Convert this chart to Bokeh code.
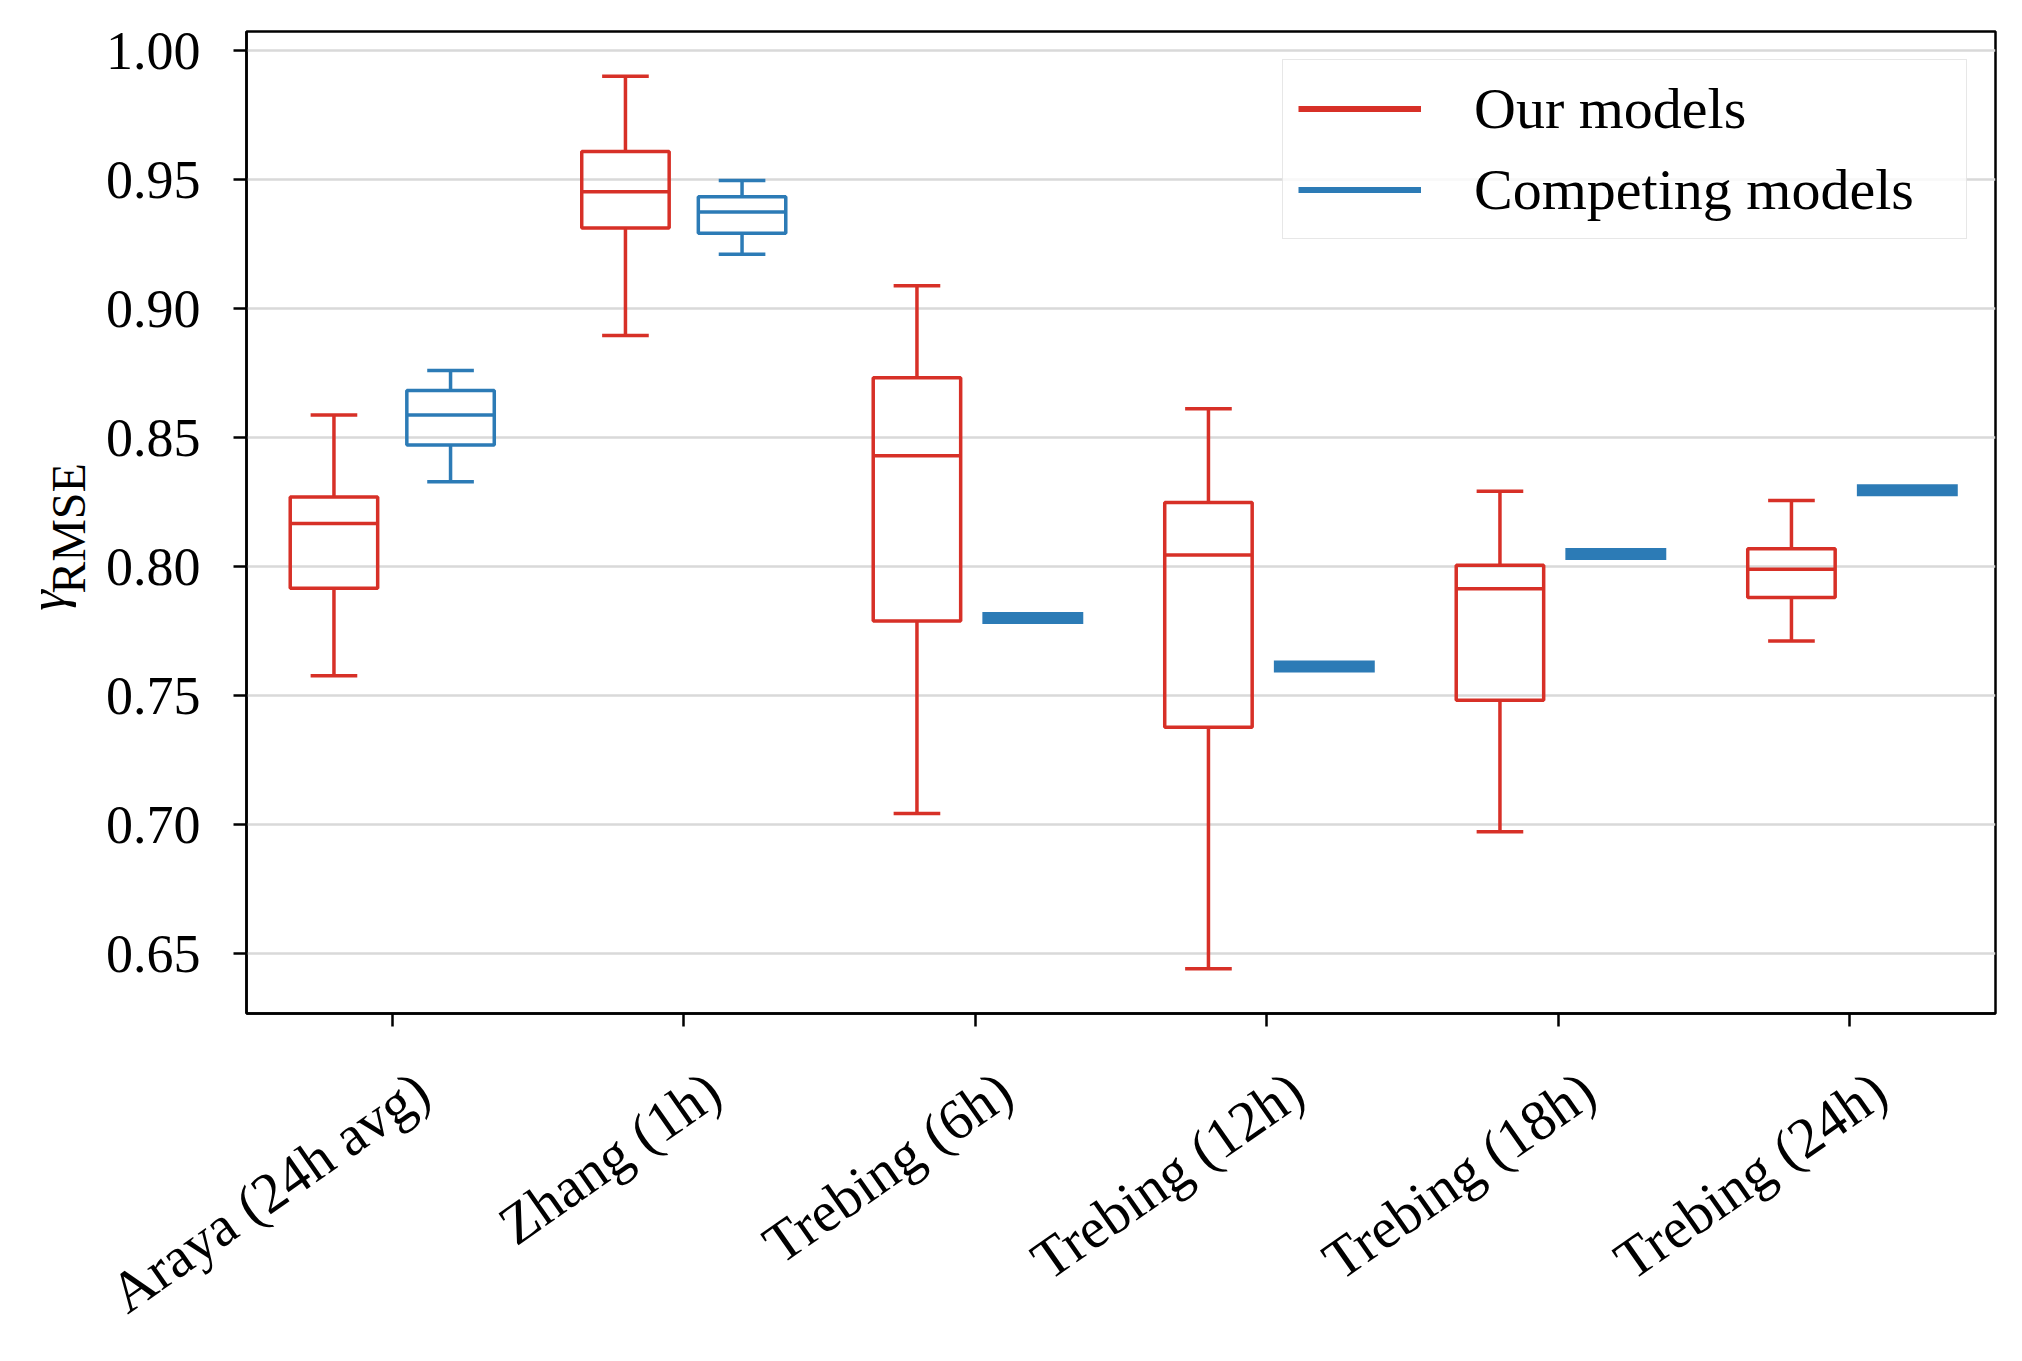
import math
from bokeh.plotting import figure
from bokeh.models import (ColumnDataSource, FixedTicker, PrintfTickFormatter,
                          Legend, LegendItem, Range1d, LinearAxis)
from bokeh.embed import file_html
from bokeh.resources import INLINE

# ---------------- data ----------------
categories = ["Araya (24h avg)", "Zhang (1h)", "Trebing (6h)",
              "Trebing (12h)", "Trebing (18h)", "Trebing (24h)"]

# Our models: five-number summaries per category
our_min = [0.7578, 0.8896, 0.7044, 0.6442, 0.6973, 0.7712]
our_q1 = [0.7917, 0.9313, 0.7790, 0.7378, 0.7483, 0.7881]
our_med = [0.8168, 0.9453, 0.8430, 0.8046, 0.7915, 0.7990]
our_q3 = [0.8270, 0.9609, 0.8732, 0.8249, 0.8006, 0.8070]
our_max = [0.8588, 0.9901, 0.9089, 0.8612, 0.8293, 0.8257]

# Competing models with a spread (box plots)
comp_box_idx = [0, 1]
comp_min = [0.8329, 0.9211]
comp_q1 = [0.8472, 0.9292]
comp_med = [0.8588, 0.9375]
comp_q3 = [0.8683, 0.9434]
comp_max = [0.8760, 0.9497]

# Competing models with a single value
comp_single_idx = [2, 3, 4, 5]
comp_single = [0.7801, 0.7614, 0.8049, 0.8296]

y_ticks = [0.65, 0.70, 0.75, 0.80, 0.85, 0.90, 0.95, 1.00]

RED = "#d73027"
BLUE = "#2c7bb6"
FONT = "Liberation Serif"

LABEL_SHIFT = 0.103   # tick-label anchor shift (matplotlib-like rotated labels)

# ---------------- main figure ----------------
p = figure(frame_width=1749, frame_height=982,
           min_border_left=246, min_border_top=31,
           min_border_right=15, min_border_bottom=330,
           x_range=Range1d(-0.5, 5.5), y_range=Range1d(0.6269, 1.0074),
           x_axis_type=None,
           output_backend="svg", toolbar_location=None,
           background_fill_color="white", border_fill_color="white")

p.outline_line_color = "black"
p.outline_line_width = 2.5
p.outline_line_alpha = 1.0

p.ygrid.grid_line_color = "#d9d9d9"
p.ygrid.grid_line_width = 2.5
p.ygrid.ticker = FixedTicker(ticks=y_ticks)

# x axis with ticks only (no labels)
xa = LinearAxis(ticker=FixedTicker(ticks=list(range(len(categories)))),
                major_label_overrides={i: "" for i in range(len(categories))},
                major_label_text_font_size="1px", major_label_standoff=0)
# x axis carrying the rotated category labels
xl_ticks = [i + LABEL_SHIFT for i in range(len(categories))]
xl = LinearAxis(ticker=FixedTicker(ticks=xl_ticks),
                major_label_overrides={t: c for t, c in zip(xl_ticks, categories)},
                major_label_orientation=math.radians(35),
                major_label_standoff=58)
xl.axis_line_color = None
xl.major_tick_line_color = None
xl.major_tick_in = 0
xl.major_tick_out = 0
xl.minor_tick_line_color = None
xl.major_label_text_font = FONT
xl.major_label_text_font_size = "57px"
xl.major_label_text_color = "black"

yax = p.yaxis[0]
for ax in (xa, yax):
    ax.axis_line_color = "black"
    ax.axis_line_width = 2.5
    ax.major_tick_line_color = "black"
    ax.major_tick_line_width = 2.5
    ax.major_tick_in = 0
    ax.major_tick_out = 13
    ax.minor_tick_line_color = None
    ax.major_label_text_font = FONT
    ax.major_label_text_color = "black"

yax.major_label_text_font_size = "54px"
yax.ticker = FixedTicker(ticks=y_ticks)
yax.formatter = PrintfTickFormatter(format="%.2f")
yax.major_label_standoff = 33
# subscript part of the y label
yax.axis_label = "RMSE" + "\u00a0"
yax.axis_label_text_font = FONT
yax.axis_label_text_font_size = "48px"
yax.axis_label_text_font_style = "normal"
yax.axis_label_text_color = "black"
yax.axis_label_standoff = 8

# outer left axis carrying the gamma of the y label
ga = LinearAxis(ticker=FixedTicker(ticks=[]), axis_line_color=None,
                major_tick_line_color=None, minor_tick_line_color=None,
                major_tick_in=0, major_tick_out=0, major_label_standoff=0,
                axis_label="γ" + "\u00a0" * 12,
                axis_label_text_font=FONT, axis_label_text_font_size="52px",
                axis_label_text_font_style="italic",
                axis_label_text_color="black",
                axis_label_standoff=-37)
p.add_layout(ga, "left")

p.add_layout(xa, "below")
p.add_layout(xl, "below")

LW = 3.5
BOX_W = 0.30
CAP_W = 0.16


def draw_boxes(idx, mn, q1, md, q3, mx, offset, color):
    xc = [i + offset for i in idx]
    src = ColumnDataSource(dict(
        xc=xc,
        left=[x - BOX_W / 2 for x in xc], right=[x + BOX_W / 2 for x in xc],
        cl=[x - CAP_W / 2 for x in xc], cr=[x + CAP_W / 2 for x in xc],
        mn=mn, q1=q1, md=md, q3=q3, mx=mx))
    p.segment(x0="xc", y0="q3", x1="xc", y1="mx", source=src,
              line_color=color, line_width=LW)
    p.segment(x0="xc", y0="q1", x1="xc", y1="mn", source=src,
              line_color=color, line_width=LW)
    p.segment(x0="cl", y0="mx", x1="cr", y1="mx", source=src,
              line_color=color, line_width=LW)
    p.segment(x0="cl", y0="mn", x1="cr", y1="mn", source=src,
              line_color=color, line_width=LW)
    p.quad(left="left", right="right", bottom="q1", top="q3", source=src,
           fill_color=None, line_color=color, line_width=LW)
    p.segment(x0="left", y0="md", x1="right", y1="md", source=src,
              line_color=color, line_width=LW)


draw_boxes(list(range(len(categories))), our_min, our_q1, our_med, our_q3,
           our_max, -0.2, RED)
draw_boxes(comp_box_idx, comp_min, comp_q1, comp_med, comp_q3, comp_max,
           0.2, BLUE)

single_src = ColumnDataSource(dict(
    x0=[i + 0.045 for i in comp_single_idx],
    x1=[i + 0.350 for i in comp_single_idx],
    y=comp_single))
p.segment(x0="x0", y0="y", x1="x1", y1="y", source=single_src,
          line_color=BLUE, line_width=12, line_cap="square")

# ---------------- legend ----------------
# legend handles: renderers whose data lies outside the visible range
red_leg = p.line(x=[-5, -4], y=[0.5, 0.5], line_color=RED, line_width=6)
blue_leg = p.line(x=[-5, -4], y=[0.5, 0.5], line_color=BLUE, line_width=6)
legend = Legend(items=[LegendItem(label="Our models", renderers=[red_leg]),
                       LegendItem(label="Competing models", renderers=[blue_leg])],
                location="top_right")
legend.margin = 28
legend.padding = 15
legend.spacing = 14
legend.glyph_width = 123
legend.glyph_height = 67
legend.label_height = 67
legend.label_width = 477
legend.label_standoff = 53
legend.label_text_font = FONT
legend.label_text_font_size = "58px"
legend.label_text_color = "black"
legend.border_line_color = "#d0d0d0"
legend.border_line_width = 1.5
legend.background_fill_color = "white"
legend.background_fill_alpha = 0.8
p.add_layout(legend)

open("out.html", "w").write(file_html(p, INLINE))
